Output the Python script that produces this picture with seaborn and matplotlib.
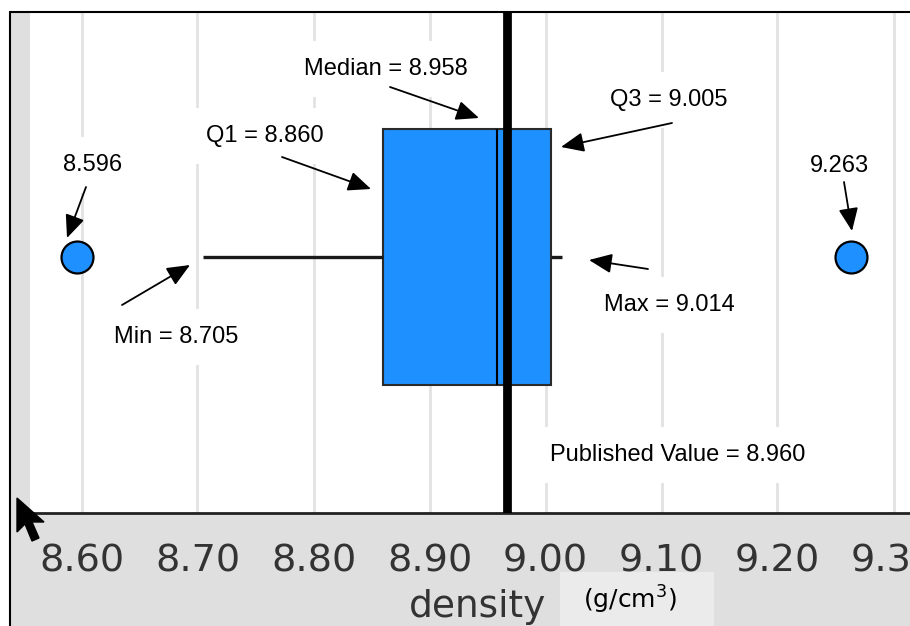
import numpy as np
import matplotlib
matplotlib.use('Agg')
import matplotlib.pyplot as plt
from matplotlib.patches import Rectangle, Polygon
from matplotlib.lines import Line2D
import seaborn as sns

# labelled five-number summary plus the two outliers; the repeated
# quartiles make numpy's percentiles land exactly on the labelled values
density = [8.596, 8.705, 8.860, 8.860, 8.958, 9.005, 9.005, 9.014, 9.263]
published_line = 8.967          # where the published-value line sits
tick_values = [8.60, 8.70, 8.80, 8.90, 9.00, 9.10, 9.20, 9.30]
minor_values = [8.65, 8.75, 8.85, 8.95, 9.05, 9.15, 9.25]
labels = ['8.596', 'Q1 = 8.860', 'Median = 8.958', 'Q3 = 9.005',
          '9.263', 'Min = 8.705', 'Max = 9.014', 'Published Value = 8.960']

W, H = 910, 626
BLUE = '#1E90FF'

sns.set_style('white')
plt.rcParams['font.family'] = ['Liberation Sans', 'DejaVu Sans']
plt.rcParams['mathtext.fontset'] = 'dejavusans'

fig = plt.figure(figsize=(W / 100, H / 100), dpi=100)
fig.patch.set_facecolor('white')


def fx(px):
    return px / W


def fy(py):
    return 1 - py / H


# gray frame area, border lines
fig.add_artist(Rectangle((fx(10), 0), fx(900), fy(12), transform=fig.transFigure,
                         facecolor='#dfdfdf', edgecolor='none', zorder=0))
fig.add_artist(Rectangle((fx(560), 0), fx(154), fy(572), transform=fig.transFigure,
                         facecolor='#ebebeb', edgecolor='none', zorder=1))
fig.add_artist(Line2D([fx(10), 1], [fy(12), fy(12)], transform=fig.transFigure,
                      color='black', lw=1.5, zorder=3))
fig.add_artist(Line2D([fx(10), fx(10)], [0, fy(12)], transform=fig.transFigure,
                      color='black', lw=1.5, zorder=3))

ax = fig.add_axes([fx(30), fy(513), fx(880), 501 / H])
ax.set_facecolor('white')
ax.set_zorder(2)

sns.boxplot(x=density, ax=ax, orient='h', color=BLUE, saturation=1, width=0.8,
            showcaps=False,
            boxprops=dict(edgecolor='#2a2a2a', linewidth=1.5),
            whiskerprops=dict(color='#1a1a1a', linewidth=2.4),
            medianprops=dict(color='black', linewidth=1.5),
            flierprops=dict(marker='o', markersize=23, markerfacecolor=BLUE,
                            markeredgecolor='black', markeredgewidth=1.6))
ax.axvline(published_line, color='black', lw=6.3, zorder=6)

ax.set_xticks(tick_values)
ax.set_xticklabels([f'{v:.2f}' for v in tick_values], family='DejaVu Sans')
ax.set_xticks(minor_values, minor=True)
ax.set_yticks([])
ax.set_ylabel('')

# axis scale: 8.60 at x=81.5 px, 1160 px per unit
x_lo = 8.6 - (81.5 - 30) / 1160
x_hi = 8.6 + (910 - 81.5) / 1160
ax.set_xlim(x_lo, x_hi)
ax.set_ylim((513 - 257) / 320, -(257 - 12) / 320)

ax.tick_params(axis='x', which='major', direction='out', length=13, width=1.5,
               color='#222222', labelsize=27.5, labelcolor='#333333', pad=9)
ax.tick_params(axis='x', which='minor', direction='out', length=6, width=1.5,
               color='#222222')
ax.grid(axis='x', which='major', color='#e2e2e2', lw=2)
ax.set_axisbelow(True)
for side in ['top', 'left', 'right']:
    ax.spines[side].set_visible(False)
ax.spines['bottom'].set_color('#222222')
ax.spines['bottom'].set_linewidth(2)


def to_data(px, py):
    return 8.6 + (px - 81.5) / 1160, (py - 257) / 320


# (text centre, arrow tail, arrow head) in pixels
layout = [
    ((93, 165), (86, 187), (67, 238)),
    ((265, 136), (282, 157), (371, 189)),
    ((386, 69), (390, 87), (479, 118)),
    ((669, 100), (672, 123), (561, 147)),
    ((839, 166), (844, 182), (852, 231)),
    ((176, 337), (122, 305), (190, 265)),
    ((669, 305), (648, 269), (589, 260)),
    ((678, 455), None, None),
]

for text, (tc, tail, head) in zip(labels, layout):
    ax.text(*to_data(*tc), text, fontsize=17, color='black', ha='center',
            va='center', zorder=7,
            bbox=dict(boxstyle='square,pad=0.7', fc='white', ec='none'))
    if tail is not None:
        ax.annotate('', xy=to_data(*head), xytext=to_data(*tail), zorder=8,
                    arrowprops=dict(arrowstyle='-|>,head_length=0.7,head_width=0.3',
                                    color='black', lw=1.3, mutation_scale=20,
                                    shrinkA=0, shrinkB=0))

fig.text(fx(478), fy(617), 'density', fontsize=27, color='#333333',
         family='DejaVu Sans', ha='center', va='baseline', zorder=4)
fig.text(fx(630), fy(600), '(g/cm$^3$)', fontsize=18, color='black',
         family='DejaVu Sans', ha='center', va='center', zorder=4)

# mouse pointer left in the screenshot
tip = np.array([17, 498])
shape = np.array([(0, 0), (0, 34), (8, 26), (15, 43), (22, 40), (15, 24), (27, 24)])
pts = [(fx(tip[0] + a), fy(tip[1] + b)) for a, b in shape]
fig.add_artist(Polygon(pts, closed=True, transform=fig.transFigure,
                       facecolor='black', edgecolor='black', zorder=10))

fig.savefig('out.png', dpi=100)
